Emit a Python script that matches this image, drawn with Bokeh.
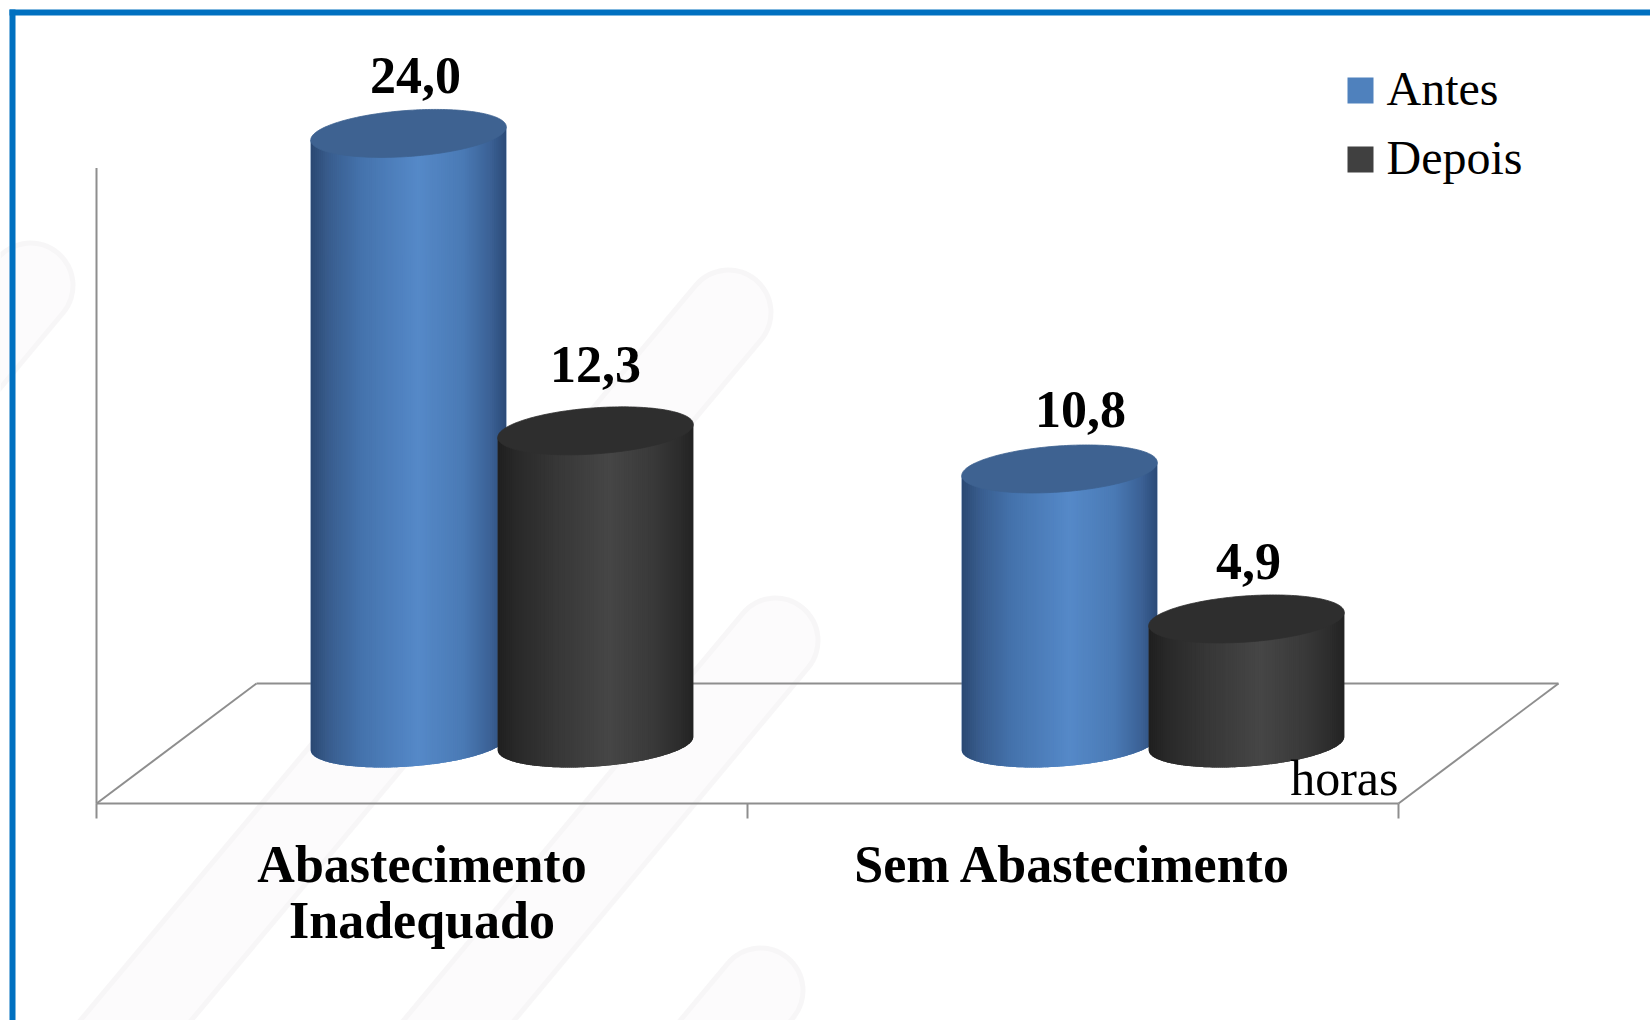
import numpy as np
from bokeh.plotting import figure
from bokeh.models import Range1d
from bokeh.core.properties import value
from bokeh.embed import file_html
from bokeh.resources import INLINE

# ---- data -------------------------------------------------------------
categories = [["Abastecimento", "Inadequado"], ["Sem Abastecimento"]]
series = ["Antes", "Depois"]
antes = [24.0, 10.8]
depois = [12.3, 4.9]
series_values = [antes, depois]
series_colors = ["#4f81bd", "#404040"]
unit_label = "horas"
axis_max = 25

# ---- layout (pixels) --------------------------------------------------
W, H = 1650, 1020
CAT_PX = 651.0      # width of one category along the floor
HOUR_PX = 25.42     # height of one hour
ORIGIN_X_PX = 96    # front-left corner of the floor
BASE_Y_PX = 743     # value 0 at mid depth, from top
DEPTH_X_PX = 160    # floor depth, horizontal shift
DEPTH_Y_PX = 120    # floor depth, vertical shift
PAIR_PX = 187       # distance between the two cylinders of a category
RAD_A, RAD_B = 98.0, 23.0   # ellipse semi-axes of a cylinder cap
TILT = np.radians(4.1)
TEXT_SHIFT = 17     # baseline correction for the serif font
SERIF = value("Liberation Serif")

x_start = -ORIGIN_X_PX / CAT_PX
x_end = x_start + W / CAT_PX
y_end = BASE_Y_PX / HOUR_PX
y_start = y_end - H / HOUR_PX


def X(px):
    return x_start + px / CAT_PX


def Y(py):
    return y_end - py / HOUR_PX


def DX(px):
    return px / CAT_PX


def DY(px):
    return px / HOUR_PX


p = figure(width=W, height=H, x_range=Range1d(x_start, x_end),
           y_range=Range1d(y_start, y_end), x_axis_type=None, y_axis_type=None,
           output_backend="svg", toolbar_location=None, min_border=0)
p.outline_line_color = None
p.background_fill_color = "white"
p.border_fill_color = "white"

# ---- soft diagonal background bands ------------------------------------
bands = [((30, 285), (-400, 800)), ((728, 312), (-250, 1480)),
         ((775, 640), (300, 1210)), ((760, 990), (600, 1182))]
for (x0, y0), (x1, y1) in bands:
    p.line([X(x0), X(x1)], [Y(y0), Y(y1)], line_width=90, line_cap="round",
           line_color="#e9e5e9", line_alpha=0.35)
    p.line([X(x0), X(x1)], [Y(y0), Y(y1)], line_width=80, line_cap="round",
           line_color="#fcfbfc")

# ---- frame border ----------------------------------------------------
p.quad(left=[X(9), X(9)], right=[X(W), X(15)], top=[Y(9), Y(9)],
       bottom=[Y(15), Y(H)], fill_color="#0070c0", line_color=None)

# ---- floor and axis ----------------------------------------------------
n_cat = len(categories)
front_y = -DY(DEPTH_Y_PX / 2)
back_y = DY(DEPTH_Y_PX / 2)
ddx = DX(DEPTH_X_PX)
floor_xs = [[0, n_cat], [ddx, n_cat + ddx], [0, ddx], [n_cat, n_cat + ddx],
            [0, 0]]
floor_ys = [[front_y, front_y], [back_y, back_y], [front_y, back_y],
            [front_y, back_y], [front_y, front_y + axis_max]]
for k in range(n_cat + 1):
    floor_xs.append([k, k])
    floor_ys.append([front_y, front_y - DY(15)])
p.multi_line(floor_xs, floor_ys, line_color="#8e8e8e", line_width=2)


# ---- cylinders ---------------------------------------------------------
def shade(stops, s):
    pos = [q for q, _ in stops]
    rgb = np.array([[int(c[i:i + 2], 16) for i in (1, 3, 5)] for _, c in stops])
    out = [np.interp(s, pos, rgb[:, i]) for i in range(3)]
    return "#%02x%02x%02x" % tuple(int(round(v)) for v in out)


body_stops = {
    0: [(0.0, "#2a4872"), (0.08, "#375a8a"), (0.25, "#4472ab"),
        (0.55, "#5589c8"), (0.78, "#4a7ab5"), (0.92, "#3b6195"),
        (1.0, "#2b4a76")],
    1: [(0.0, "#1f1f1f"), (0.1, "#292929"), (0.3, "#373737"),
        (0.57, "#464646"), (0.8, "#393939"), (0.93, "#2c2c2c"),
        (1.0, "#222222")],
}
cap_colors = ["#3e6291", "#2e2e2e"]

sin_t, cos_t = np.sin(TILT), np.cos(TILT)
qa = sin_t ** 2 / RAD_A ** 2 + cos_t ** 2 / RAD_B ** 2
half_w = np.sqrt(RAD_A ** 2 * cos_t ** 2 + RAD_B ** 2 * sin_t ** 2)


def contour(u):
    qb = 2 * u * sin_t * cos_t * (1 / RAD_A ** 2 - 1 / RAD_B ** 2)
    qc = u ** 2 * (cos_t ** 2 / RAD_A ** 2 + sin_t ** 2 / RAD_B ** 2) - 1
    disc = np.sqrt(np.maximum(qb ** 2 - 4 * qa * qc, 0))
    return -qb / (2 * qa), (-qb - disc) / (2 * qa)


# silhouette sampling (denser near the sides) and shading strips
M = 80
u_sil = -half_w * np.cos(np.pi * np.arange(M + 1) / M)
mid_s, low_s = contour(u_sil)
N = 96
u_edges = np.linspace(-half_w, half_w, N + 1)
tt = np.linspace(0, 2 * np.pi, 200)
cap_u = RAD_A * np.cos(tt) * cos_t - RAD_B * np.sin(tt) * sin_t
cap_v = RAD_A * np.cos(tt) * sin_t + RAD_B * np.sin(tt) * cos_t

label_x, label_y, label_t = [], [], []
label_dx = [[7, 21], [0, 2]]     # horizontal nudge of each value label (px)
label_gap = [[41, 42], [49, 40]]  # baseline height above the cap centre (px)

for i in range(n_cat):
    for j, vals in enumerate(series_values):
        v = vals[i]
        cx = i + 0.5 + ddx / 2 + (j - 0.5) * DX(PAIR_PX)
        # base silhouette in the mid tone
        sil_x = np.concatenate([cx + DX(u_sil), cx + DX(u_sil[::-1])])
        sil_y = np.concatenate([v + DY(mid_s), DY(low_s[::-1])])
        p.patch(sil_x, sil_y, fill_color=shade(body_stops[j], 0.5),
                line_color=None)
        xs, ys, cols = [], [], []
        for k in range(N):
            u0, u1 = u_edges[k], min(u_edges[k + 1] + 0.6, half_w)
            seg = (u_sil >= u0) & (u_sil <= u1)
            uu = np.concatenate([[u0], u_sil[seg], [u1]])
            mm, ll = contour(uu)
            xs.append(np.concatenate([cx + DX(uu), cx + DX(uu[::-1])]))
            ys.append(np.concatenate([v + DY(mm), DY(ll[::-1])]))
            cols.append(shade(body_stops[j], ((u_edges[k] + u_edges[k + 1]) / 2 + half_w) / (2 * half_w)))
        p.patches(xs, ys, fill_color=cols, line_color=None)
        p.patch(cx + DX(cap_u), v + DY(cap_v), fill_color=cap_colors[j],
                line_color=cap_colors[j], line_width=0.8)
        label_x.append(cx + DX(label_dx[j][i]))
        label_y.append(v + DY(label_gap[j][i] + TEXT_SHIFT))
        label_t.append(f"{v:.1f}".replace(".", ","))

# value labels
p.text(label_x, label_y, text=label_t, text_font=SERIF, text_font_size="52px",
       text_font_style="bold", text_align="center", text_baseline="alphabetic",
       text_color="black")

# category labels
cx_list, cy_list, ct_list = [], [], []
for i, lines in enumerate(categories):
    for r, line in enumerate(lines):
        cx_list.append(i + 0.5)
        cy_list.append(Y(881 + 56 * r - TEXT_SHIFT))
        ct_list.append(line)
p.text(cx_list, cy_list, text=ct_list, text_font=SERIF, text_font_size="52px",
       text_font_style="bold", text_align="center", text_baseline="alphabetic",
       text_color="black")

# unit label
p.text([n_cat], [Y(794 - TEXT_SHIFT)], text=[unit_label], text_font=SERIF,
       text_font_size="50px", text_align="right", text_baseline="alphabetic",
       text_color="black")

# legend
leg_y = [Y(90 + 69 * k) for k in range(len(series))]
p.scatter([X(1360)] * len(series), leg_y, marker="square", size=26,
          fill_color=series_colors, line_color=None)
p.text([X(1386)] * len(series),
       [Y(105 + 69 * k - TEXT_SHIFT) for k in range(len(series))],
       text=series, text_font=SERIF, text_font_size="48px",
       text_align="left", text_baseline="alphabetic", text_color="black")

open("out.html", "w").write(file_html(p, INLINE))
